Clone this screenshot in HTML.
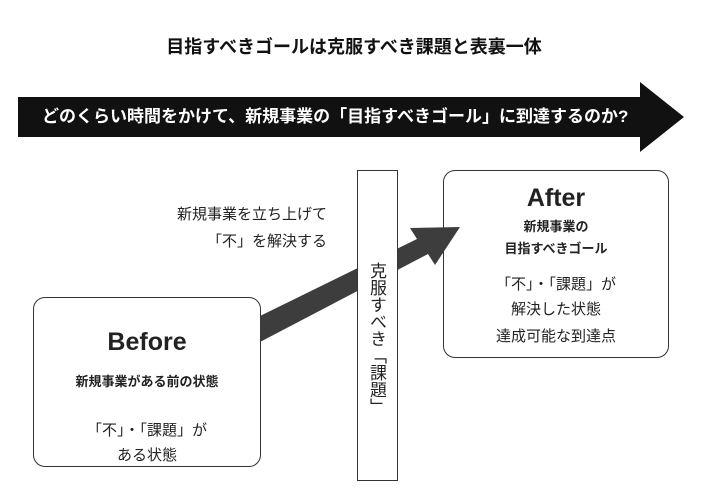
<!DOCTYPE html>
<html><head><meta charset="utf-8"><style>
body{margin:0;width:708px;height:496px;background:#fff;position:relative;overflow:hidden;font-family:"Liberation Sans","Noto Sans CJK JP",sans-serif;color:#222}
.t{position:absolute;white-space:nowrap;line-height:1}
.box{position:absolute;border:1.5px solid #333;border-radius:12px;background:#fff;box-sizing:border-box}
.c{text-align:center;left:0;right:0}
</style></head><body>
<svg width="708" height="496" style="position:absolute;left:0;top:0">
<polygon points="18,97 640,97 640,82 684,117 640,152 640,137 18,137" fill="#111"/>
</svg>
<div class="t c" style="top:38px;font-size:18px;font-weight:bold;color:#111">目指すべきゴールは克服すべき課題と表裏一体</div>
<div class="t" style="left:42px;top:108px;font-size:17px;font-weight:bold;color:#fff">どのくらい時間をかけて、新規事業の「目指すべきゴール」に到達するのか?</div>
<div class="t" style="right:381px;top:207px;font-size:15px;text-align:right">新規事業を立ち上げて</div>
<div class="t" style="right:381px;top:234px;font-size:15px;text-align:right">「不」を解決する</div>
<div class="box" style="left:33px;top:297px;width:228px;height:170px">
<div class="t c" style="top:32px;font-size:25px;font-weight:bold">Before</div>
<div class="t c" style="top:77px;font-size:13px;font-weight:bold">新規事業がある前の状態</div>
<div class="t c" style="top:125px;font-size:15px">「不」・「課題」が</div>
<div class="t c" style="top:150px;font-size:15px">ある状態</div>
</div>
<div class="box" style="left:443px;top:170px;width:226px;height:188px">
<div class="t c" style="top:15px;font-size:25px;font-weight:bold">After</div>
<div class="t c" style="top:49px;font-size:13px;font-weight:bold">新規事業の</div>
<div class="t c" style="top:71px;font-size:13px;font-weight:bold">目指すべきゴール</div>
<div class="t c" style="top:106px;font-size:15px">「不」・「課題」が</div>
<div class="t c" style="top:131px;font-size:15px">解決した状態</div>
<div class="t c" style="top:158px;font-size:15px">達成可能な到達点</div>
</div>
<svg width="708" height="496" style="position:absolute;left:0;top:0">
<polygon points="260,316 417,239 410,228 460,227 435,265 428,254 260,342" fill="#3d3d3d"/>
</svg>
<div style="position:absolute;left:357px;top:170px;width:41px;height:311px;border:1.5px solid #333;box-sizing:border-box;background:#fff"></div>
<div class="t" style="left:368px;top:262px;font-size:17px;writing-mode:vertical-rl;line-height:1">克服すべき「課題」</div>
</body></html>
